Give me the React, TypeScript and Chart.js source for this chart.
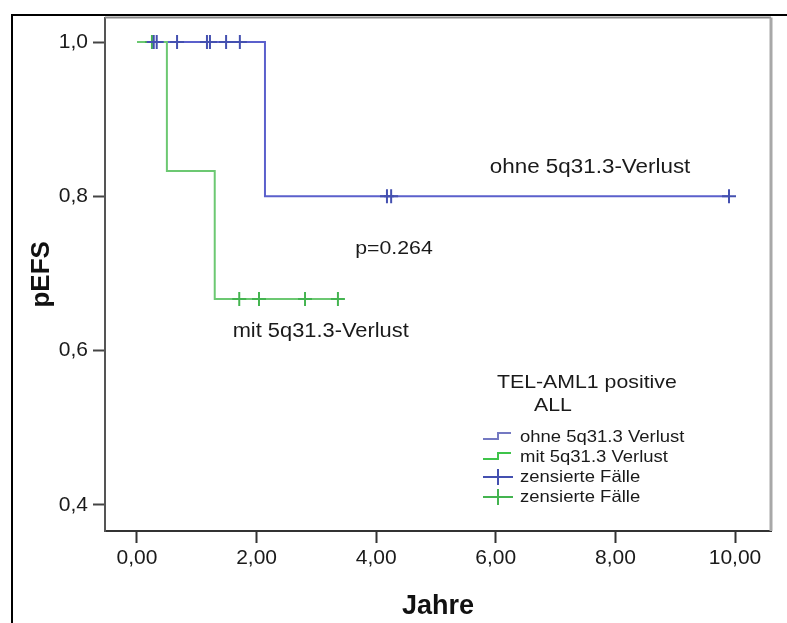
import React, { useEffect, useRef } from "react";
import { Chart, registerables } from "chart.js";

Chart.register(...registerables);

// Kaplan-Meier curves (time in years, survival)
const ohneTimes = [0, 2.14, 9.9];
const ohneSurv = [1.0, 0.8, 0.8];
const mitTimes = [0, 0.5, 1.3, 3.36];
const mitSurv = [1.0, 0.833, 0.667, 0.667];

// censored cases
const ohneCensTimes = [0.28, 0.33, 0.67, 1.17, 1.22, 1.49, 1.72, 4.18, 4.25, 9.9];
const ohneCensSurv = [1, 1, 1, 1, 1, 1, 1, 0.8, 0.8, 0.8];
const mitCensTimes = [0.25, 1.71, 2.04, 2.81, 3.36];
const mitCensSurv = [1, 0.667, 0.667, 0.667, 0.667];

const xTicks = [0, 2, 4, 6, 8, 10];
const yTicks = [0.4, 0.6, 0.8, 1.0];

const legendTitle = ["TEL-AML1 positive", "ALL"];
const legendLabels = ["ohne 5q31.3 Verlust", "mit 5q31.3 Verlust", "zensierte Fälle", "zensierte Fälle"];
const annotOhne = "ohne 5q31.3-Verlust";
const annotMit = "mit 5q31.3-Verlust";
const annotP = "p=0.264";

const BLUE = "#5b60cc";
const BLUE_C = "#4450b0";
const GREEN = "#6cc872";
const GREEN_C = "#44b450";
const FONT = "'Liberation Sans', Arial, sans-serif";

const toPts = (xs: number[], ys: number[]) => xs.map((x, i) => ({ x, y: ys[i] }));

function stretchText(ctx: CanvasRenderingContext2D, text: string, x: number, y: number, size: number, align: "left" | "center" = "left", sx = 1.12) {
  ctx.save();
  ctx.font = `${size}px ${FONT}`;
  ctx.fillStyle = "#1a1a1a";
  ctx.textBaseline = "middle";
  ctx.textAlign = align;
  ctx.translate(x, y);
  ctx.scale(sx, 1);
  ctx.fillText(text, 0, 0);
  ctx.restore();
}

const decorPlugin = {
  id: "decor",
  afterDraw(chart: any) {
    const ctx = chart.ctx as CanvasRenderingContext2D;
    const { left, right, top, bottom } = chart.chartArea;
    ctx.save();
    // plot frame top & right
    ctx.strokeStyle = "#8a8a8a";
    ctx.lineWidth = 2;
    ctx.beginPath();
    ctx.moveTo(left, top);
    ctx.lineTo(right, top);
    ctx.stroke();
    ctx.strokeStyle = "#a8a8a8";
    ctx.lineWidth = 3;
    ctx.beginPath();
    ctx.moveTo(right, top);
    ctx.lineTo(right, bottom);
    ctx.stroke();
    // outer frame
    ctx.strokeStyle = "#000";
    ctx.lineWidth = 2;
    ctx.beginPath();
    ctx.moveTo(12, chart.height);
    ctx.lineTo(12, 15);
    ctx.lineTo(chart.width, 15);
    ctx.stroke();
    ctx.restore();

    const xs = chart.scales.x;
    const ys = chart.scales.y;
    // annotations
    stretchText(ctx, annotOhne, xs.getPixelForValue(5.9), ys.getPixelForValue(0.837), 20);
    stretchText(ctx, annotP, xs.getPixelForValue(3.65), ys.getPixelForValue(0.732), 19);
    stretchText(ctx, annotMit, xs.getPixelForValue(1.6), ys.getPixelForValue(0.625), 19.5);

    // legend
    stretchText(ctx, legendTitle[0], 497, 383, 19);
    stretchText(ctx, legendTitle[1], 553, 406, 19, "center");
    const rows = [437, 457, 477, 497];
    const x0 = 483;
    legendLabels.forEach((lab, i) => {
      const y = rows[i];
      ctx.save();
      ctx.lineWidth = 2;
      if (i < 2) {
        ctx.strokeStyle = i === 0 ? "#7479c2" : "#3ec44a";
        ctx.beginPath();
        ctx.moveTo(x0, y + 2);
        ctx.lineTo(x0 + 15, y + 2);
        ctx.lineTo(x0 + 15, y - 4);
        ctx.lineTo(x0 + 28, y - 4);
        ctx.stroke();
      } else {
        ctx.strokeStyle = i === 2 ? BLUE_C : GREEN_C;
        ctx.beginPath();
        ctx.moveTo(x0, y);
        ctx.lineTo(x0 + 30, y);
        ctx.moveTo(x0 + 15, y - 8);
        ctx.lineTo(x0 + 15, y + 8);
        ctx.stroke();
      }
      ctx.restore();
      stretchText(ctx, lab, 520, y, 16.5);
    });
  },
};

export default function App() {
  const ref = useRef<HTMLCanvasElement | null>(null);
  useEffect(() => {
    if (!ref.current) return;
    const chart = new Chart(ref.current, {
      type: "line",
      data: {
        datasets: [
          {
            label: "ohne 5q31.3 Verlust",
            data: toPts(ohneTimes, ohneSurv),
            borderColor: BLUE,
            borderWidth: 2,
            stepped: "before",
            pointRadius: 0,
            fill: false,
            order: 2,
          },
          {
            label: "mit 5q31.3 Verlust",
            data: toPts(mitTimes, mitSurv),
            borderColor: GREEN,
            borderWidth: 2,
            stepped: "before",
            pointRadius: 0,
            fill: false,
            order: 1,
          },
          {
            type: "scatter",
            label: "zensierte Fälle",
            data: toPts(ohneCensTimes, ohneCensSurv),
            borderColor: BLUE_C,
            backgroundColor: BLUE_C,
            pointStyle: "cross",
            pointRadius: 7,
            pointBorderWidth: 2,
            showLine: false,
            order: 0,
          } as any,
          {
            type: "scatter",
            label: "zensierte Fälle",
            data: toPts(mitCensTimes, mitCensSurv),
            borderColor: GREEN_C,
            backgroundColor: GREEN_C,
            pointStyle: "cross",
            pointRadius: 7,
            pointBorderWidth: 2,
            showLine: false,
            order: 0,
          } as any,
        ],
      },
      options: {
        animation: false,
        responsive: false,
        layout: { padding: { left: 0, top: 17, right: 16, bottom: 0 } },
        plugins: { legend: { display: false }, tooltip: { enabled: false } },
        scales: {
          x: {
            type: "linear",
            min: -0.535,
            max: 10.602,
            afterFit: (s: any) => { s.height = 92; },
            afterBuildTicks: (s: any) => { s.ticks = xTicks.map((v) => ({ value: v })); },
            grid: { display: true, drawOnChartArea: false, drawTicks: true, tickLength: 12, tickWidth: 2, tickColor: "#333" },
            border: { display: true, color: "#333", width: 2 },
            ticks: {
              color: "#1a1a1a",
              padding: 3,
              font: { family: FONT, size: 21 },
              callback: (v: any) => Number(v).toFixed(2).replace(".", ","),
            },
            title: { display: true, text: "Jahre", color: "#111", font: { family: FONT, size: 27, weight: "bold" }, padding: { top: 0, bottom: 0 } },
          },
          y: {
            type: "linear",
            min: 0.3663,
            max: 1.0317,
            afterFit: (s: any) => { s.width = 105; },
            afterBuildTicks: (s: any) => { s.ticks = yTicks.map((v) => ({ value: v })); },
            grid: { display: true, drawOnChartArea: false, drawTicks: true, tickLength: 12, tickWidth: 2, tickColor: "#444" },
            border: { display: true, color: "#555", width: 2 },
            ticks: {
              color: "#1a1a1a",
              padding: 5,
              font: { family: FONT, size: 21 },
              callback: (v: any) => Number(v).toFixed(1).replace(".", ","),
            },
            title: { display: true, text: "pEFS", color: "#111", font: { family: FONT, size: 26, weight: "bold" }, padding: { top: 26, bottom: 0 } },
          },
        },
      },
      plugins: [decorPlugin],
    } as any);
    return () => chart.destroy();
  }, []);
  return (
    <div style={{ position: "absolute", left: 0, top: 0, width: 787, height: 623, background: "#fff" }}>
      <canvas ref={ref} width={787} height={623} style={{ display: "block" }} />
    </div>
  );
}
